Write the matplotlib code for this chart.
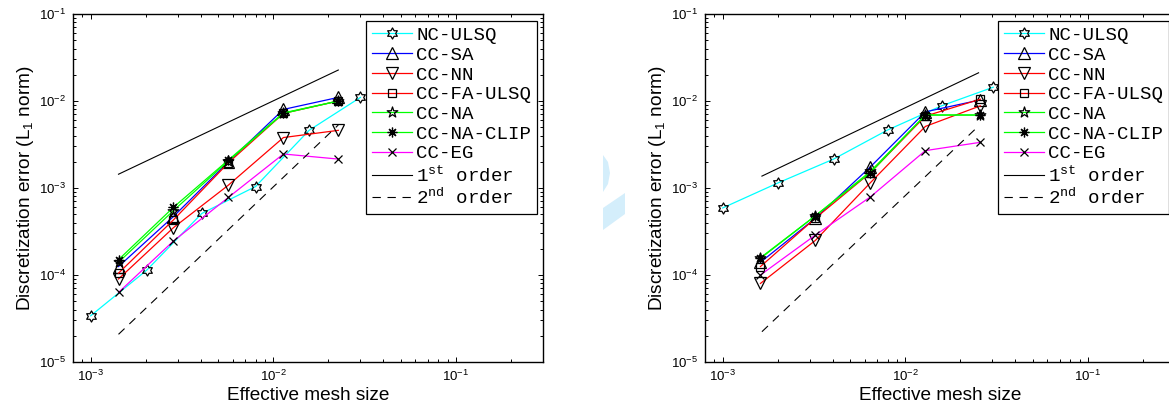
import numpy as np
import matplotlib
matplotlib.use('Agg')
import matplotlib.pyplot as plt
from matplotlib.path import Path
from matplotlib.patches import Polygon

plt.rcParams['font.family'] = ['Liberation Sans', 'DejaVu Sans']
plt.rcParams['mathtext.default'] = 'regular'

# ---- data ----
# left panel
h_nc_left = [1.0e-3, 2.03e-3, 4.06e-3, 8.0e-3, 1.57e-2, 3.0e-2]
nc_ulsq_left = [3.4e-5, 1.14e-4, 5.1e-4, 1.04e-3, 4.6e-3, 1.1e-2]
h_cc_left = [1.42e-3, 2.84e-3, 5.68e-3, 1.136e-2, 2.27e-2]
cc_sa_left = [1.25e-4, 4.7e-4, 2.0e-3, 8.0e-3, 1.1e-2]
cc_nn_left = [9.0e-5, 3.5e-4, 1.08e-3, 3.8e-3, 4.6e-3]
cc_fa_ulsq_left = [1.05e-4, 4.3e-4, 1.95e-3, 7.2e-3, 1.0e-2]
cc_na_left = [1.4e-4, 5.5e-4, 2.05e-3, 7.2e-3, 1.0e-2]
cc_na_clip_left = [1.5e-4, 6.0e-4, 2.1e-3, 7.3e-3, 1.0e-2]
cc_eg_left = [6.3e-5, 2.46e-4, 7.8e-4, 2.46e-3, 2.15e-3]
ref_h_left = [1.42e-3, 2.27e-2]
first_left = [1.44e-3, 2.27e-2]
second_left = [2.08e-5, 5.3e-3]

# right panel
h_nc_right = [1.0e-3, 2.02e-3, 4.05e-3, 8.0e-3, 1.58e-2, 3.03e-2]
nc_ulsq_right = [5.9e-4, 1.15e-3, 2.15e-3, 4.64e-3, 8.8e-3, 1.44e-2]
h_cc_right = [1.61e-3, 3.22e-3, 6.44e-3, 1.288e-2, 2.576e-2]
cc_sa_right = [1.4e-4, 4.5e-4, 1.75e-3, 7.5e-3, 1.03e-2]
cc_nn_right = [8.0e-5, 2.5e-4, 1.15e-3, 5.1e-3, 8.8e-3]
cc_fa_ulsq_right = [1.25e-4, 4.5e-4, 1.5e-3, 6.7e-3, 1.05e-2]
cc_na_right = [1.55e-4, 4.8e-4, 1.55e-3, 6.9e-3, 6.9e-3]
cc_na_clip_right = [1.58e-4, 4.8e-4, 1.5e-3, 6.9e-3, 6.9e-3]
cc_eg_right = [1.0e-4, 2.88e-4, 7.9e-4, 2.69e-3, 3.35e-3]
ref_h_right = [1.64e-3, 2.52e-2]
first_right = [1.37e-3, 2.11e-2]
second_right = [2.23e-5, 5.16e-3]

labels = ['NC-ULSQ', 'CC-SA', 'CC-NN', 'CC-FA-ULSQ', 'CC-NA', 'CC-NA-CLIP',
          'CC-EG', '1$^{st}$ order', '2$^{nd}$ order']


def star_path(n, inner):
    ang = np.pi / 2 + np.arange(2 * n) * np.pi / n
    r = np.where(np.arange(2 * n) % 2 == 0, 1.0, inner)
    verts = np.column_stack([r * np.cos(ang), r * np.sin(ang)])
    verts = np.vstack([verts, verts[:1]])
    codes = [Path.MOVETO] + [Path.LINETO] * (2 * n - 1) + [Path.CLOSEPOLY]
    return Path(verts, codes)


hexagram = star_path(6, 1 / np.sqrt(3))
pentagram = star_path(5, 0.382)

# color, marker, size
styles = [
    ('#00ffff', hexagram, 8),
    ('#0000ff', '^', 8.5),
    ('#ff0000', 'v', 8.5),
    ('#ff0000', 's', 6),
    ('#00ff00', pentagram, 8),
    ('#00ff00', (8, 2, 0), 7),
    ('#ff00ff', 'x', 6),
]


def draw_panel(ax, h_nc, h_cc, series, ref_h, first, second):
    xs = [h_nc] + [h_cc] * 6
    for (c, m, ms), x, y, lab in zip(styles, xs, series, labels):
        ax.plot(x, y, color=c, lw=0.9, marker=m, markersize=ms,
                markerfacecolor='none', markeredgecolor='k',
                markeredgewidth=0.9, label=lab)
    ax.plot(ref_h, first, color='k', lw=0.8, label=labels[7])
    ax.plot(ref_h, second, color='k', lw=0.8, dashes=(7.5, 6), label=labels[8])
    ax.set_xscale('log')
    ax.set_yscale('log')
    ax.set_xlim(8e-4, 0.3)
    ax.set_ylim(1e-5, 1e-1)
    ax.set_xlabel('Effective mesh size', fontsize=13.7, labelpad=2)
    ax.set_ylabel('Discretization error (L$_1$ norm)', fontsize=13.7, labelpad=2)
    ax.tick_params(which='both', direction='in', top=True, right=True,
                   labelsize=9.5, width=0.7)
    ax.tick_params(which='major', length=3.5, pad=5)
    ax.tick_params(which='minor', length=2)
    for s in ax.spines.values():
        s.set_linewidth(1.0)
    leg = ax.legend(loc='upper right', bbox_to_anchor=(1 - 6 / 470, 1 - 7 / 348),
                    prop={'family': 'Liberation Mono', 'size': 13.8},
                    fancybox=False, edgecolor='k', framealpha=1,
                    handlelength=2.1, handletextpad=0.2, labelspacing=0.12,
                    borderpad=0.3, borderaxespad=0)
    leg.get_frame().set_linewidth(0.9)


fig = plt.figure(figsize=(11.69, 4.09), dpi=100)
W, H = 1169, 409
ax1 = fig.add_axes([73 / W, 47 / H, 470 / W, 348 / H])
ax2 = fig.add_axes([705 / W, 47 / H, 470 / W, 348 / H])

draw_panel(ax1, h_nc_left, h_cc_left,
           [nc_ulsq_left, cc_sa_left, cc_nn_left, cc_fa_ulsq_left,
            cc_na_left, cc_na_clip_left, cc_eg_left],
           ref_h_left, first_left, second_left)
draw_panel(ax2, h_nc_right, h_cc_right,
           [nc_ulsq_right, cc_sa_right, cc_nn_right, cc_fa_ulsq_right,
            cc_na_right, cc_na_clip_right, cc_eg_right],
           ref_h_right, first_right, second_right)

# faint watermark between the panels
wm = '#d4eefb'
fig.patches.append(Polygon(
    [(603 / W, 1 - 155 / H), (608 / W, 1 - 162 / H), (610 / W, 1 - 173 / H),
     (608 / W, 1 - 184 / H), (603 / W, 1 - 192 / H)],
    closed=True, transform=fig.transFigure, facecolor=wm, edgecolor='none'))
fig.patches.append(Polygon(
    [(603 / W, 1 - 208 / H), (625 / W, 1 - 193 / H), (625 / W, 1 - 214 / H),
     (614 / W, 1 - 222 / H), (603 / W, 1 - 230 / H)],
    closed=True, transform=fig.transFigure, facecolor=wm, edgecolor='none'))

fig.savefig('out.png', dpi=100)
